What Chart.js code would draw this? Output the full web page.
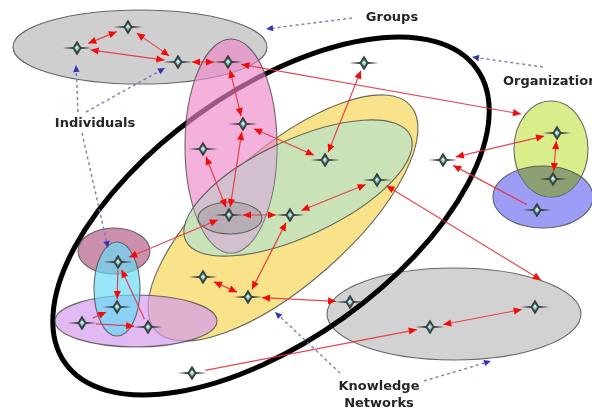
<!DOCTYPE html>
<html>
<head>
<meta charset="utf-8">
<script src="https://cdn.jsdelivr.net/npm/chart.js@4.4.1/dist/chart.umd.min.js"></script>
<style>
  html, body { margin: 0; padding: 0; background: #ffffff; }
  #wrap { width: 592px; height: 412px; }
</style>
</head>
<body>
<div id="wrap"><canvas id="myChart" width="592" height="412"></canvas></div>
<script>
// individuals (nodes) - position in diagram units
const nodeX = [77, 128, 178, 228, 243, 203, 229, 290, 325, 377, 364, 443, 557, 553, 537, 203, 248, 350, 430, 535, 192, 118, 117, 82, 148];
const nodeY = [48, 27, 62, 62, 124, 149, 215, 215, 160, 180, 63, 160, 133, 179, 210, 277, 297, 302, 327, 307, 373, 262, 307, 323, 327];

// edge ends that stop on a group border instead of a node
const anchorX = [521, 541];
const anchorY = [114, 280];

// links between individuals: from, to, arrow on both ends?
const edgeFrom = [0, 1, 2, 2, 3, 3, 5, 4, 4, 8, 6, 7, 9, 7, 15, 16, 18, 20, 11, 14, 12, 21, 21, 23, 23, 24];
const edgeTo   = [1, 2, 0, 3, 'a0', 4, 6, 6, 8, 10, 7, 9, 'a1', 16, 16, 17, 19, 18, 12, 11, 13, 6, 22, 22, 24, 21];
const edgeBoth = [true, true, true, true, true, true, true, true, true, true, true, true, true, true, true, true, true, false, true, false, true, true, false, false, false, false];

// groups: ellipses (center, radii, tilt in degrees)
const groupName = ['Group A', 'Network B', 'Yellow', 'Green', 'Core', 'Pink', 'Rose', 'Lavender', 'Cyan', 'Org blue', 'Org lime'];
const groupCx   = [140, 454, 283, 298, 230, 231, 114, 136, 117, 543, 551];
const groupCy   = [47, 314, 218, 188, 218, 146, 251, 321, 289, 197, 149];
const groupRx   = [127, 127, 170, 124, 32, 46, 36, 81, 23, 50, 37];
const groupRy   = [37, 46, 67, 48, 16, 107, 23, 26, 47, 31, 48];
const groupTilt = [0, 0, -41.4, -25, 0, 0, 0, 0, 0, 0, 0];

// the knowledge network boundary (big black ring)
const ringCx = 271, ringCy = 216, ringRx = 253, ringRy = 125, ringTilt = -35.6;

// labels and their pointer lines
const labelText = ['Groups', 'Individuals', 'Organization', 'Knowledge', 'Networks'];
const labelX = [392, 95, 503, 379, 379];
const labelY = [18, 124, 82, 387, 404];
const labelAlign = ['center', 'center', 'left', 'center', 'center'];

const pointerX1 = [352, 543, 78, 86, 82, 340, 424];
const pointerY1 = [18, 67, 112, 112, 133, 373, 381];
const pointerX2 = [266, 472, 76, 165, 108, 275, 491];
const pointerY2 = [29, 57, 65, 68, 248, 312, 361];

// styles
const groupFill = [
    'rgba(188, 188, 188, 0.72)',
    'rgba(192, 192, 192, 0.72)',
    'rgba(247, 222, 118, 0.85)',
    'rgba(196, 226, 190, 0.88)',
    'rgba(150, 150, 150, 0.45)',
    'rgba(236, 135, 200, 0.65)',
    'rgba(182, 95, 138, 0.7)',
    'rgba(212, 155, 238, 0.7)',
    'rgba(105, 218, 245, 0.7)',
    'rgba(140, 140, 245, 0.85)',
    'rgba(214, 236, 128, 0.92)'
];
const groupStroke = 'rgba(80, 80, 80, 0.85)';
const orgOverlapFill = 'rgba(128, 148, 112, 0.85)';
const pinkGreenFill = 'rgba(200, 214, 216, 0.55)';

function makeStar() {
    const c = document.createElement('canvas');
    c.width = 30;
    c.height = 18;
    const g = c.getContext('2d');
    // thin horizontal and vertical spikes
    g.fillStyle = '#3c3c3c';
    g.beginPath();
    g.moveTo(0.5, 9);
    g.lineTo(11, 8.1);
    g.lineTo(15, 1.5);
    g.lineTo(19, 8.1);
    g.lineTo(29.5, 9);
    g.lineTo(19, 9.9);
    g.lineTo(15, 16.5);
    g.lineTo(11, 9.9);
    g.closePath();
    g.fill();
    g.fillStyle = '#9ad6d2';
    g.strokeStyle = '#35625f';
    g.lineWidth = 0.8;
    g.beginPath();
    g.moveTo(15, 5.2);
    g.lineTo(17.8, 9);
    g.lineTo(15, 12.8);
    g.lineTo(12.2, 9);
    g.closePath();
    g.fill();
    g.stroke();
    g.fillStyle = 'rgba(255,255,255,0.85)';
    g.fillRect(14.2, 7.6, 1.5, 1.5);
    return c;
}

function endPoint(ref) {
    if (typeof ref === 'string') {
        const i = parseInt(ref.slice(1));
        return { x: anchorX[i], y: anchorY[i], node: false };
    }
    return { x: nodeX[ref], y: nodeY[ref], node: true };
}

function ellipsePath(ctx, chart, cx, cy, rx, ry, tilt) {
    const xs = chart.scales.x, ys = chart.scales.y;
    const px = xs.getPixelForValue(cx), py = ys.getPixelForValue(cy);
    const prx = Math.abs(xs.getPixelForValue(cx + rx) - px);
    const pry = Math.abs(ys.getPixelForValue(cy + ry) - py);
    ctx.beginPath();
    ctx.ellipse(px, py, prx, pry, tilt * Math.PI / 180, 0, Math.PI * 2);
}

function groupPath(ctx, chart, i) {
    ellipsePath(ctx, chart, groupCx[i], groupCy[i], groupRx[i], groupRy[i], groupTilt[i]);
}

function arrowHead(ctx, x, y, ang, len, half, color) {
    ctx.fillStyle = color;
    ctx.beginPath();
    ctx.moveTo(x, y);
    ctx.lineTo(x - len * Math.cos(ang) + half * Math.sin(ang), y - len * Math.sin(ang) - half * Math.cos(ang));
    ctx.lineTo(x - len * Math.cos(ang) - half * Math.sin(ang), y - len * Math.sin(ang) + half * Math.cos(ang));
    ctx.closePath();
    ctx.fill();
}

// distance from a node centre to the edge of its star in a given direction
function starGap(ang) {
    const c = Math.cos(ang) / 13, s = Math.sin(ang) / 7;
    return 1 / Math.sqrt(c * c + s * s) + 1;
}

const diagramPlugin = {
    id: 'diagram',
    beforeDatasetsDraw(chart) {
        const ctx = chart.ctx;
        const xs = chart.scales.x, ys = chart.scales.y;
        ctx.save();

        const drawGroup = (i) => {
            groupPath(ctx, chart, i);
            ctx.fillStyle = groupFill[i];
            ctx.fill();
            ctx.strokeStyle = groupStroke;
            ctx.lineWidth = 1.1;
            ctx.stroke();
        };
        // fill the part of group b that lies inside group a
        const drawOverlap = (a, b, color) => {
            ctx.save();
            groupPath(ctx, chart, a);
            ctx.clip();
            groupPath(ctx, chart, b);
            ctx.fillStyle = color;
            ctx.fill();
            ctx.strokeStyle = groupStroke;
            ctx.lineWidth = 1.1;
            ctx.stroke();
            ctx.restore();
        };

        [0, 1, 2, 3].forEach(drawGroup);

        ellipsePath(ctx, chart, ringCx, ringCy, ringRx, ringRy, ringTilt);
        ctx.strokeStyle = '#000000';
        ctx.lineWidth = 5;
        ctx.stroke();

        drawGroup(5);
        drawOverlap(5, 3, pinkGreenFill);
        [4, 6, 7, 8, 9, 10].forEach(drawGroup);
        drawOverlap(10, 9, orgOverlapFill);

        // red links
        edgeFrom.forEach((f, i) => {
            const a = endPoint(f), b = endPoint(edgeTo[i]);
            let x1 = xs.getPixelForValue(a.x), y1 = ys.getPixelForValue(a.y);
            let x2 = xs.getPixelForValue(b.x), y2 = ys.getPixelForValue(b.y);
            const ang = Math.atan2(y2 - y1, x2 - x1);
            if (a.node) {
                const g = starGap(ang);
                x1 += g * Math.cos(ang); y1 += g * Math.sin(ang);
            }
            if (b.node) {
                const g = starGap(ang);
                x2 -= g * Math.cos(ang); y2 -= g * Math.sin(ang);
            }
            ctx.strokeStyle = 'rgba(228, 52, 64, 0.9)';
            ctx.lineWidth = 1.2;
            ctx.beginPath();
            ctx.moveTo(x1, y1);
            ctx.lineTo(x2, y2);
            ctx.stroke();
            arrowHead(ctx, x2, y2, ang, 8, 3.6, '#f50a0a');
            if (edgeBoth[i]) arrowHead(ctx, x1, y1, ang + Math.PI, 8, 3.6, '#f50a0a');
        });

        // dashed pointers from the labels
        pointerX1.forEach((v, i) => {
            const x1 = xs.getPixelForValue(v), y1 = ys.getPixelForValue(pointerY1[i]);
            const x2 = xs.getPixelForValue(pointerX2[i]), y2 = ys.getPixelForValue(pointerY2[i]);
            const ang = Math.atan2(y2 - y1, x2 - x1);
            ctx.strokeStyle = 'rgba(110, 122, 178, 0.9)';
            ctx.lineWidth = 1.5;
            ctx.setLineDash([3, 3]);
            ctx.beginPath();
            ctx.moveTo(x1, y1);
            ctx.lineTo(x2 - 5 * Math.cos(ang), y2 - 5 * Math.sin(ang));
            ctx.stroke();
            ctx.setLineDash([]);
            arrowHead(ctx, x2, y2, ang, 7, 3.2, '#3434b8');
        });
        ctx.restore();
    },
    afterDatasetsDraw(chart) {
        const ctx = chart.ctx;
        const xs = chart.scales.x, ys = chart.scales.y;
        ctx.save();
        ctx.font = 'bold 13px "DejaVu Sans", Verdana, sans-serif';
        ctx.fillStyle = '#262626';
        ctx.textBaseline = 'middle';
        labelText.forEach((t, i) => {
            ctx.textAlign = labelAlign[i];
            ctx.fillText(t, xs.getPixelForValue(labelX[i]), ys.getPixelForValue(labelY[i]));
        });
        ctx.restore();
    }
};

const starImg = makeStar();
const ctx = document.getElementById('myChart').getContext('2d');
const myChart = new Chart(ctx, {
    type: 'scatter',
    data: {
        datasets: [{
            label: 'Individuals',
            data: nodeX.map((x, i) => ({ x: x, y: nodeY[i] })),
            pointStyle: starImg,
            pointRadius: 10,
            pointHoverRadius: 10,
            clip: false
        }]
    },
    options: {
        responsive: false,
        animation: false,
        events: [],
        layout: { padding: 0, autoPadding: false },
        plugins: {
            legend: { display: false },
            tooltip: { enabled: false }
        },
        scales: {
            x: { type: 'linear', min: 0, max: 592, display: false },
            y: { type: 'linear', min: 0, max: 412, reverse: true, display: false }
        }
    },
    plugins: [diagramPlugin]
});
</script>
</body>
</html>
